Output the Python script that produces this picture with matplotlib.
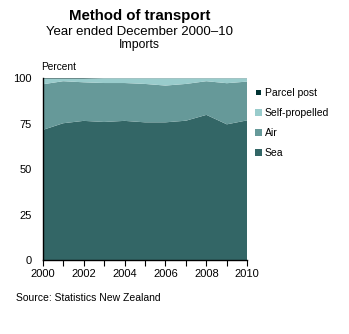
import matplotlib
matplotlib.use("Agg")
from matplotlib import pyplot as plt

plt.rcParams['font.family'] = ['Liberation Sans', 'DejaVu Sans']

years = [2000, 2001, 2002, 2003, 2004, 2005, 2006, 2007, 2008, 2009, 2010]
sea = [71.6, 75.3, 76.6, 76.0, 76.6, 75.8, 75.8, 76.7, 79.9, 74.7, 76.9]
air = [25.1, 23.1, 21.2, 21.4, 20.8, 21.1, 20.2, 20.2, 18.5, 22.6, 21.3]
parcel_post = [0.3, 0.3, 0.3, 0.1, 0.1, 0.1, 0.1, 0.1, 0.1, 0.1, 0.1]
self_propelled = [100 - s - a - p for s, a, p in zip(sea, air, parcel_post)]

labels = ['Sea', 'Air', 'Self-propelled', 'Parcel post']
colors = ['#336666', '#669999', '#99cccc', '#003333']

fig = plt.figure(figsize=(3.49, 3.34), dpi=100)
ax = fig.add_axes([0.1223, 0.2207, 0.5863, 0.5449])
ax.stackplot(years, sea, air, self_propelled, parcel_post, colors=colors, labels=labels, linewidth=0)

ax.set_xlim(2000, 2010)
ax.set_ylim(0, 100)
ax.set_xticks(years)
ax.set_xticklabels([str(y) if y % 2 == 0 else '' for y in years], fontsize=8)
ax.set_yticks([0, 25, 50, 75, 100])
ax.tick_params(axis='y', length=0, labelsize=8, pad=8)
ax.tick_params(axis='x', direction='out', length=4, width=0.8, pad=2)
for side in ['top', 'right']:
    ax.spines[side].set_visible(False)
ax.spines['left'].set_linewidth(1)
ax.spines['bottom'].set_linewidth(1)

# legend, top entry first; parcel post swatch drawn smaller
handles, labs = ax.get_legend_handles_labels()
leg = ax.legend(handles[::-1], labs[::-1], loc='upper left', bbox_to_anchor=(1.0, 0.985),
                frameon=False, fontsize=7.5, handlelength=0.7, handleheight=0.7,
                handletextpad=0.3, labelspacing=0.95, borderaxespad=0.3)
small = leg.legend_handles[0]
small.set_height(small.get_height() * 0.7)
small.set_width(small.get_width() * 0.7)
small.set_x(small.get_x() + 1)
small.set_y(small.get_y() + 1)

fig.text(0.40, 0.953, 'Method of transport', ha='center', va='center', fontsize=10.8, fontweight='bold')
fig.text(0.40, 0.905, 'Year ended December 2000\u201310', ha='center', va='center', fontsize=9.5)
fig.text(0.40, 0.865, 'Imports', ha='center', va='center', fontsize=8.8)
fig.text(0.118, 0.79, 'Percent', fontsize=7.3)
fig.text(0.045, 0.10, 'Source: Statistics New Zealand', fontsize=7.5)

fig.savefig('out.png', dpi=100)
